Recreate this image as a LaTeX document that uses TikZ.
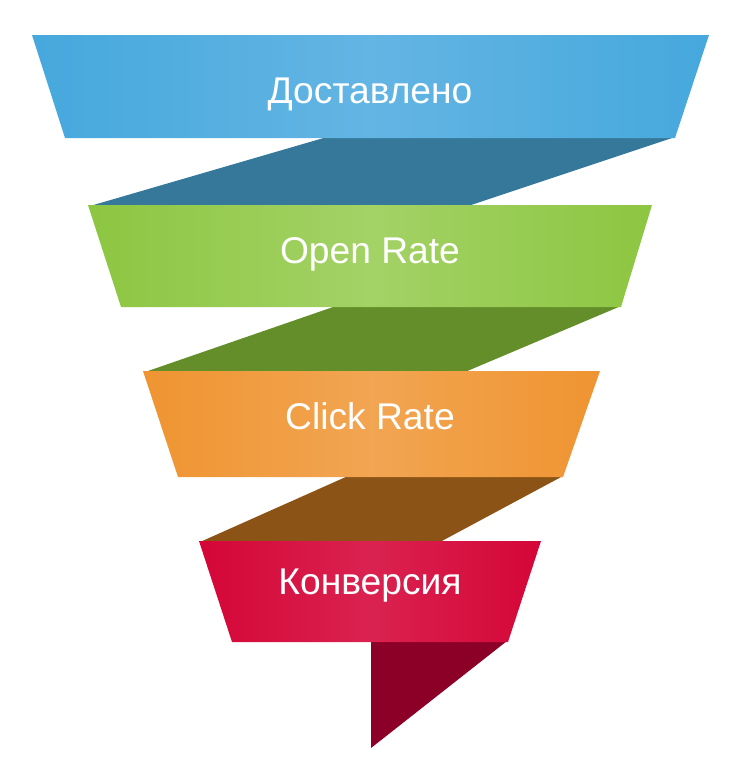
\documentclass[tikz,border=0pt]{standalone}
\usepackage{fontspec}
\setmainfont{Liberation Sans}
\usetikzlibrary{positioning}
\definecolor{blueedge}{HTML}{46A8DD}
\definecolor{bluemid}{HTML}{63B5E3}
\definecolor{bluefold}{HTML}{357899}
\definecolor{greenedge}{HTML}{8DC641}
\definecolor{greenmid}{HTML}{A3D266}
\definecolor{greenfold}{HTML}{638E29}
\definecolor{orangeedge}{HTML}{EF9431}
\definecolor{orangemid}{HTML}{F2A552}
\definecolor{orangefold}{HTML}{8C5316}
\definecolor{rededge}{HTML}{D40637}
\definecolor{redmid}{HTML}{DA2250}
\definecolor{redfold}{HTML}{8C0027}
\tikzstyle{stagetext}=[text=white, font=\fontsize{37.2}{42}\selectfont, anchor=base, inner sep=0pt]
\tikzstyle{fold}=[draw=none]
\tikzstyle{band}=[draw=none]

\begin{document}
\begin{tikzpicture}[x=1pt,y=-1pt]
		\useasboundingbox (0,0) rectangle (745,772);
		% folds behind the bands
		\fill[fold, fill=bluefold] (327,137) -- (675,137) -- (468,206) -- (90,206) -- cycle;
		\fill[fold, fill=greenfold] (336,306) -- (621,306) -- (465,372) -- (145,372) -- cycle;
		\fill[fold, fill=orangefold] (348,476) -- (563,476) -- (440,542) -- (200,542) -- cycle;
		\fill[fold, fill=redfold] (371,641) -- (507,641) -- (371,748) -- cycle;
		% bands
		\shade[band, left color=blueedge, right color=blueedge, middle color=bluemid]
		(32,35) -- (709,35) -- (675,138) -- (65,138) -- cycle;
		\shade[band, left color=greenedge, right color=greenedge, middle color=greenmid]
		(88,205) -- (652,205) -- (621,307) -- (121,307) -- cycle;
		\shade[band, left color=orangeedge, right color=orangeedge, middle color=orangemid]
		(143,371) -- (600,371) -- (563,477) -- (178,477) -- cycle;
		\shade[band, left color=rededge, right color=rededge, middle color=redmid]
		(199,541) -- (541,541) -- (508,642) -- (232,642) -- cycle;
		% texts
		\node[stagetext] (delivered) at (370,103) {Доставлено};
		\node[stagetext] (open) at (370,263) {Open Rate};
		\node[stagetext] (click) at (370,429) {Click Rate};
		\node[stagetext] (conv) at (370,594) {Конверсия};
	\end{tikzpicture}
\end{document}
